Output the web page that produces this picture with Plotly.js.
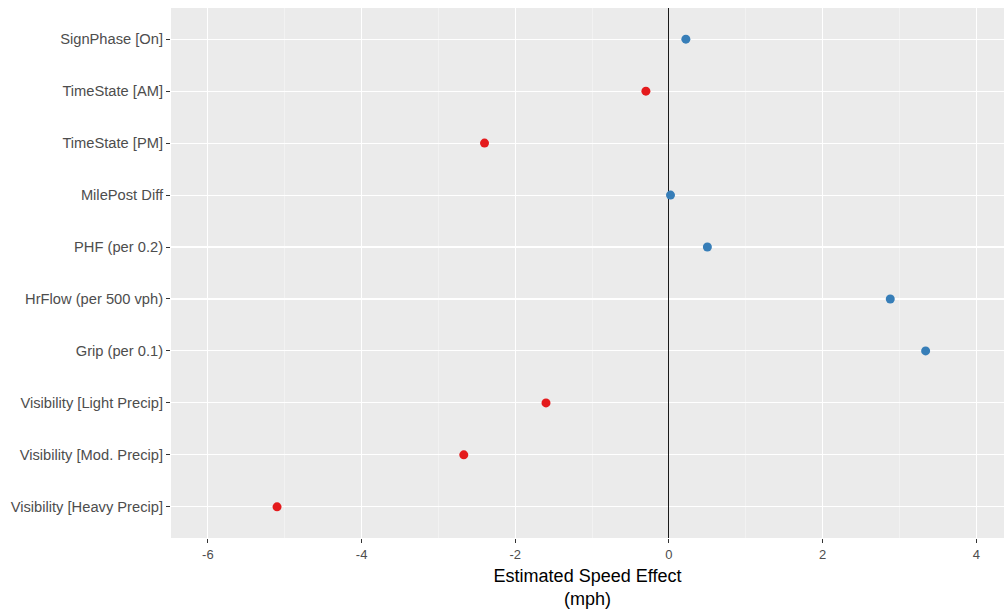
<!DOCTYPE html>
<html><head><meta charset="utf-8">
<script src="https://cdn.plot.ly/plotly-3.0.1.min.js"></script>
<style>html,body{margin:0;padding:0;background:#fff}#chart{width:1006px;height:609px}</style>
</head><body><div id="chart"></div>
<script>
const terms = ["SignPhase [On]","TimeState [AM]","TimeState [PM]","MilePost Diff","PHF (per 0.2)","HrFlow (per 500 vph)","Grip (per 0.1)","Visibility [Light Precip]","Visibility [Mod. Precip]","Visibility [Heavy Precip]"];
const estimates = [0.22,-0.30,-2.40,0.02,0.50,2.88,3.34,-1.60,-2.67,-5.10];
const xTicks = [-6,-4,-2,0,2,4];

const order = terms.slice().reverse();
const colors = estimates.map(v => v < 0 ? "#E41A1C" : "#377EB8");

const trace = {
  type: "scatter", mode: "markers",
  x: estimates, y: terms,
  marker: {color: colors, size: 9, line: {width: 0}},
  hoverinfo: "x+y", showlegend: false
};

const layout = {
  width: 1006, height: 609,
  margin: {l: 171, r: 2, t: 8, b: 71},
  paper_bgcolor: "#ffffff", plot_bgcolor: "#EBEBEB",
  font: {family: "Liberation Sans, Arial, sans-serif", color: "#4D4D4D"},
  xaxis: {
    range: [-6.48, 4.36], tickvals: xTicks, ticktext: xTicks.map(String),
    showgrid: true, gridcolor: "#ffffff", gridwidth: 1.1,
    minor: {dtick: 1, tick0: 0, showgrid: true, gridcolor: "#F7F7F7", gridwidth: 0.6},
    zeroline: true, zerolinecolor: "#1a1a1a", zerolinewidth: 1,
    showline: false,
    ticks: "outside", ticklen: 4, tickcolor: "#333333", tickwidth: 1,
    tickfont: {size: 13, color: "#4D4D4D"},
    title: {text: "Estimated Speed Effect<br>(mph)", font: {size: 18, color: "#000000"}, standoff: 8}
  },
  yaxis: {
    type: "category", categoryorder: "array", categoryarray: order,
    range: [-0.6, 9.6],
    showgrid: true, gridcolor: "#ffffff", gridwidth: 1.1,
    zeroline: false, showline: false,
    ticks: "outside", ticklen: 4, tickcolor: "#333333", tickwidth: 1,
    tickfont: {size: 14.7, color: "#4D4D4D"}
  }
};

Plotly.newPlot("chart", [trace], layout, {displayModeBar: false, staticPlot: true});
</script></body></html>
